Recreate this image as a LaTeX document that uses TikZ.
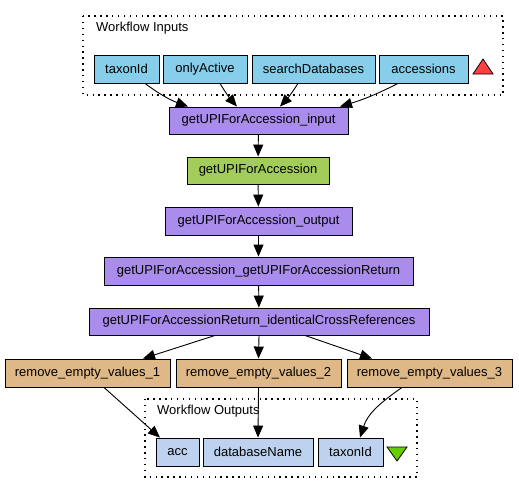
\documentclass[tikz,border=0pt]{standalone}
\usepackage{fontspec}
\setmainfont{Liberation Sans}
\usetikzlibrary{arrows.meta}
\definecolor{inpc}{HTML}{87CEEB}
\definecolor{purp}{HTML}{A98CEB}
\definecolor{wsdl}{HTML}{A2CD5A}
\definecolor{tan}{HTML}{DEB887}
\definecolor{outc}{HTML}{BCD2EE}
\definecolor{redt}{HTML}{FF4040}
\definecolor{grnt}{HTML}{66CD00}
\tikzset{
  box/.style={draw=black, line width=0.9pt, rectangle, inner sep=0pt, font=\fontsize{13}{15}\selectfont, text=black},
  inp/.style={box, fill=inpc, minimum height=28pt},
  proc/.style={box, fill=purp},
  ws/.style={box, fill=wsdl},
  rem/.style={box, fill=tan, minimum width=165pt, minimum height=28pt},
  outp/.style={box, fill=outc, minimum height=28pt},
  port/.style={draw=black, dash pattern=on 1.4pt off 4.5pt, line width=1.2pt},
  edge/.style={-{Triangle[length=12pt,width=10pt]}, line width=0.9pt, black},
  lbl/.style={font=\fontsize{13}{15}\selectfont, anchor=west, inner sep=0pt}
}
\begin{document}
\begin{tikzpicture}[x=1pt,y=-1pt]
\useasboundingbox[fill=white] (0,0) rectangle (519,493);
% input group
\draw[port] (83,16) rectangle (503,95);
\node[lbl] (inlbl) at (96,28) {Workflow Inputs};
\node[inp, minimum width=65pt] (tax) at (126.5,69) {taxonId};
\node[inp, minimum width=84pt] (act) at (205,69) {onlyActive};
\node[inp, minimum width=123pt] (sdb) at (313.5,69) {searchDatabases};
\node[inp, minimum width=89pt] (accs) at (423.5,69) {accessions};
\draw[fill=redt, draw=black, line width=0.8pt] (473,74) -- (493,74) -- (483,59) -- cycle;
% processors
\node[proc, minimum width=179pt, minimum height=27pt] (gin) at (258.5,120.5) {getUPIForAccession\_input};
\node[ws, minimum width=142pt, minimum height=27pt] (gup) at (258,170.5) {getUPIForAccession};
\node[proc, minimum width=187pt, minimum height=28pt] (gout) at (258.5,221) {getUPIForAccession\_output};
\node[proc, minimum width=309pt, minimum height=28pt] (gret) at (258.5,271) {getUPIForAccession\_getUPIForAccessionReturn};
\node[proc, minimum width=340pt, minimum height=27pt] (gid) at (259,321.5) {getUPIForAccessionReturn\_identicalCrossReferences};
\node[rem] (r1) at (87.5,373) {remove\_empty\_values\_1};
\node[rem] (r2) at (258.5,373) {remove\_empty\_values\_2};
\node[rem] (r3) at (429.5,373) {remove\_empty\_values\_3};
% output group
\draw[port] (145,399) rectangle (417,477);
\node[lbl] (outlbl) at (157,411) {Workflow Outputs};
\node[outp, minimum width=43pt] (acc) at (177.5,452) {acc};
\node[outp, minimum width=110pt] (dbn) at (258,452) {databaseName};
\node[outp, minimum width=65pt] (toid) at (350.5,452) {taxonId};
\draw[fill=grnt, draw=black, line width=0.8pt] (387,447) -- (407,447) -- (397,461) -- cycle;
% edges
\draw[edge] ([xshift=18.5pt]tax.south) to[bend right=8] ([xshift=-70.5pt]gin.north);
\draw[edge] ([xshift=15pt]act.south) to[bend right=5] ([xshift=-21.5pt]gin.north);
\draw[edge] ([xshift=-15.5pt]sdb.south) to[bend left=5] ([xshift=21.5pt]gin.north);
\draw[edge] ([xshift=-25.5pt]accs.south) to[bend left=5] ([xshift=81.5pt]gin.north);
\draw[edge] (gin) -- (gup);
\draw[edge] (gup) -- (gout);
\draw[edge] (gout) -- (gret);
\draw[edge] (gret) -- (gid);
\draw[edge] ([xshift=-44pt]gid.south) -- ([xshift=55.5pt]r1.north);
\draw[edge] (gid.south) -- (r2.north);
\draw[edge] ([xshift=46pt]gid.south) -- ([xshift=-57.5pt]r3.north);
\draw[edge] ([xshift=16.5pt]r1.south) -- ([xshift=-17.5pt]acc.north);
\draw[edge] (r2.south) -- (dbn.north);
\draw[edge] ([xshift=-27.5pt]r3.south) to[out=-145,in=72] ([xshift=9.5pt]toid.north);
\end{tikzpicture}
\end{document}
